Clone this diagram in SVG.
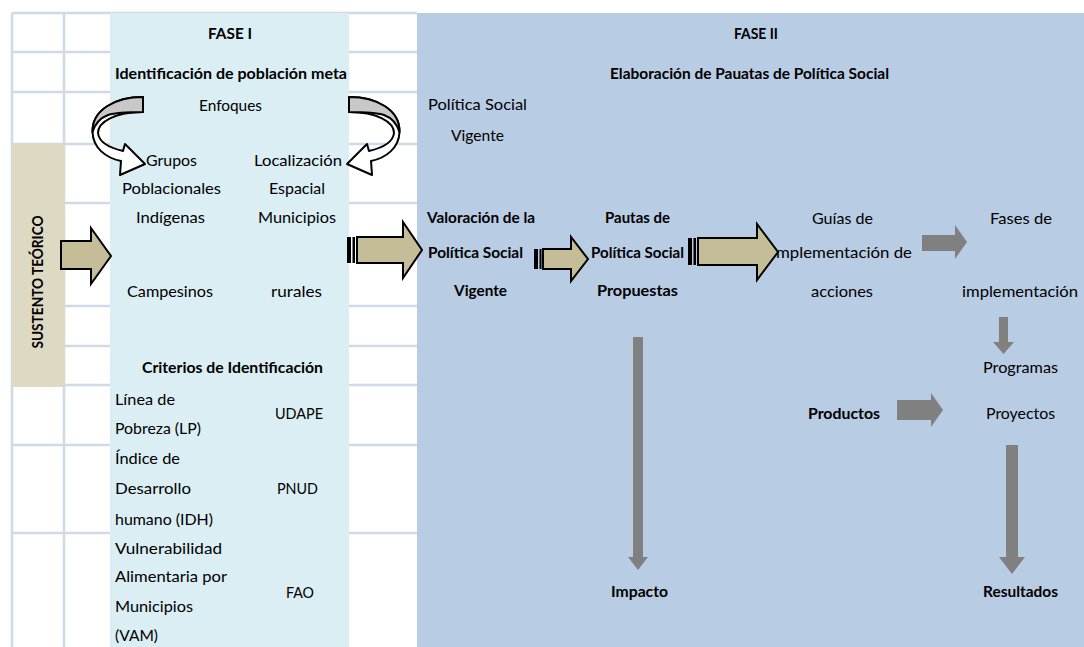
<svg xmlns="http://www.w3.org/2000/svg" xmlns:xlink="http://www.w3.org/1999/xlink" width="1084" height="647" viewBox="0 0 1084 647">
<style>
.grid{stroke:#d0d9e6;stroke-width:2.6;fill:none}
.t{font-family:Lato,"Liberation Sans",sans-serif;font-size:16px;fill:#000}
.b{font-weight:bold}
.tan{fill:#c4bd97;stroke:#000;stroke-width:2;stroke-linejoin:miter}
.stripe{fill:#000}
.gray{fill:#808080}
.cw{fill:#fff;stroke:#000;stroke-width:2;stroke-linejoin:round}
.cg{fill:#c8c8c8;stroke:#000;stroke-width:2;stroke-linejoin:round}
</style>
<defs>
<g id="curved">
<path class="cw" d="M143,97 C115,97 92,110 92.5,132 C93,148 106,158 121,161 L120,175 L145,164 L125,144 L123,151 C110,148 99,142 98,133 C98,122 115,112 143,112 Z"/>
<path class="cg" d="M143,97 C115,97 92,110 92.5,132 C95,124 100,118 108,115 C117,112 130,112 143,112 Z"/>
</g>
</defs>
<rect width="1084" height="647" fill="#fff"/>
<g id="grid">
<line class="grid" x1="12" y1="13" x2="417" y2="13"/>
<line class="grid" x1="12" y1="52" x2="417" y2="52"/>
<line class="grid" x1="12" y1="92" x2="417" y2="92"/>
<line class="grid" x1="12" y1="144" x2="417" y2="144"/>
<line class="grid" x1="12" y1="203" x2="417" y2="203"/>
<line class="grid" x1="12" y1="306" x2="417" y2="306"/>
<line class="grid" x1="12" y1="346" x2="417" y2="346"/>
<line class="grid" x1="12" y1="385" x2="417" y2="385"/>
<line class="grid" x1="12" y1="445" x2="417" y2="445"/>
<line class="grid" x1="12" y1="533" x2="417" y2="533"/>
<line class="grid" x1="12" y1="13" x2="12" y2="647"/>
<line class="grid" x1="64" y1="13" x2="64" y2="647"/>
</g>
<g id="sustento">
<rect x="12" y="144" width="53" height="243" fill="#ddd9c3"/>
<text class="t b" transform="translate(43,282) rotate(-90)" text-anchor="middle" textLength="133" lengthAdjust="spacingAndGlyphs">SUSTENTO TEÓRICO</text>
</g>
<g id="fase1">
<rect x="110" y="13" width="239" height="634" fill="#daeef3"/>
<text class="t b" x="208" y="39" textLength="44" lengthAdjust="spacingAndGlyphs">FASE I</text>
<text class="t b" x="115" y="79" textLength="232" lengthAdjust="spacingAndGlyphs">Identificación de población meta</text>
<text class="t" x="199" y="111" textLength="63" lengthAdjust="spacingAndGlyphs">Enfoques</text>
<text class="t" x="146" y="166" textLength="51" lengthAdjust="spacingAndGlyphs">Grupos</text>
<text class="t" x="254" y="166" textLength="88" lengthAdjust="spacingAndGlyphs">Localización</text>
<text class="t" x="122" y="194" textLength="99" lengthAdjust="spacingAndGlyphs">Poblacionales</text>
<text class="t" x="269" y="194" textLength="56" lengthAdjust="spacingAndGlyphs">Espacial</text>
<text class="t" x="136" y="223" textLength="69" lengthAdjust="spacingAndGlyphs">Indígenas</text>
<text class="t" x="258" y="223" textLength="78" lengthAdjust="spacingAndGlyphs">Municipios</text>
<text class="t" x="127" y="297" textLength="86" lengthAdjust="spacingAndGlyphs">Campesinos</text>
<text class="t" x="271" y="297" textLength="51" lengthAdjust="spacingAndGlyphs">rurales</text>
<text class="t b" x="142" y="373" textLength="181" lengthAdjust="spacingAndGlyphs">Criterios de Identificación</text>
<text class="t" x="115" y="405" textLength="60" lengthAdjust="spacingAndGlyphs">Línea de</text>
<text class="t" x="115" y="434" textLength="86" lengthAdjust="spacingAndGlyphs">Pobreza (LP)</text>
<text class="t" x="275" y="419" textLength="48" lengthAdjust="spacingAndGlyphs">UDAPE</text>
<text class="t" x="115" y="464" textLength="65" lengthAdjust="spacingAndGlyphs">Índice de</text>
<text class="t" x="115" y="494" textLength="76" lengthAdjust="spacingAndGlyphs">Desarrollo</text>
<text class="t" x="115" y="525" textLength="98" lengthAdjust="spacingAndGlyphs">humano (IDH)</text>
<text class="t" x="277" y="494" textLength="41" lengthAdjust="spacingAndGlyphs">PNUD</text>
<text class="t" x="115" y="554" textLength="107" lengthAdjust="spacingAndGlyphs">Vulnerabilidad</text>
<text class="t" x="115" y="582" textLength="112" lengthAdjust="spacingAndGlyphs">Alimentaria por</text>
<text class="t" x="115" y="612" textLength="78" lengthAdjust="spacingAndGlyphs">Municipios</text>
<text class="t" x="115" y="641" textLength="43" lengthAdjust="spacingAndGlyphs">(VAM)</text>
<text class="t" x="286" y="598" textLength="28" lengthAdjust="spacingAndGlyphs">FAO</text>
</g>
<g id="fase2">
<rect x="417" y="13" width="667" height="634" fill="#b8cce4"/>
<text class="t b" x="734" y="39" textLength="44" lengthAdjust="spacingAndGlyphs">FASE II</text>
<text class="t b" x="610" y="79" textLength="279" lengthAdjust="spacingAndGlyphs">Elaboración de Pauatas de Política Social</text>
</g>
<g id="politica-vigente">
<text class="t" x="428" y="110" textLength="99" lengthAdjust="spacingAndGlyphs">Política Social</text>
<text class="t" x="451" y="141" textLength="53" lengthAdjust="spacingAndGlyphs">Vigente</text>
</g>
<g id="valoracion">
<text class="t b" x="427" y="223" textLength="108" lengthAdjust="spacingAndGlyphs">Valoración de la</text>
<text class="t b" x="428" y="258" textLength="95" lengthAdjust="spacingAndGlyphs">Política Social</text>
<text class="t b" x="454" y="296" textLength="53" lengthAdjust="spacingAndGlyphs">Vigente</text>
</g>
<g id="pautas">
<text class="t b" x="605" y="223" textLength="65" lengthAdjust="spacingAndGlyphs">Pautas de</text>
<text class="t b" x="591" y="258" textLength="93" lengthAdjust="spacingAndGlyphs">Política Social</text>
<text class="t b" x="597" y="296" textLength="81" lengthAdjust="spacingAndGlyphs">Propuestas</text>
</g>
<g id="guias">
<text class="t" x="812" y="224" textLength="61" lengthAdjust="spacingAndGlyphs">Guías de</text>
<text class="t" x="772" y="258" textLength="140" lengthAdjust="spacingAndGlyphs">implementación de</text>
<text class="t" x="811" y="297" textLength="62" lengthAdjust="spacingAndGlyphs">acciones</text>
</g>
<g id="fases">
<text class="t" x="990" y="224" textLength="62" lengthAdjust="spacingAndGlyphs">Fases de</text>
<text class="t" x="962" y="297" textLength="116" lengthAdjust="spacingAndGlyphs">implementación</text>
</g>
<g id="programas">
<text class="t" x="983" y="373" textLength="75" lengthAdjust="spacingAndGlyphs">Programas</text>
<text class="t" x="986" y="419" textLength="69" lengthAdjust="spacingAndGlyphs">Proyectos</text>
</g>
<g id="productos">
<text class="t b" x="808" y="419" textLength="72" lengthAdjust="spacingAndGlyphs">Productos</text>
</g>
<g id="impacto">
<text class="t b" x="611" y="597" textLength="57" lengthAdjust="spacingAndGlyphs">Impacto</text>
</g>
<g id="resultados">
<text class="t b" x="983" y="597" textLength="75" lengthAdjust="spacingAndGlyphs">Resultados</text>
</g>
<g id="connectors">
<use xlink:href="#curved"/>
<use xlink:href="#curved" transform="translate(492,0) scale(-1,1)"/>
<path class="tan" d="M61,241 L91,241 L91,228 L111,256 L91,284 L91,269 L61,269 Z"/>
<rect class="stripe" x="347" y="237" width="4" height="26"/>
<rect class="stripe" x="352.5" y="237" width="2.5" height="26"/>
<path class="tan" d="M357,237 L403,237 L403,222 L422,250 L403,278 L403,263 L357,263 Z"/>
<rect class="stripe" x="534" y="249" width="4" height="20"/>
<rect class="stripe" x="539.5" y="249" width="2" height="20"/>
<path class="tan" d="M543,249 L571,249 L571,237 L588,259 L571,281 L571,269 L543,269 Z"/>
<rect class="stripe" x="688" y="238" width="4" height="27"/>
<rect class="stripe" x="693.5" y="238" width="2.5" height="27"/>
<path class="tan" d="M698,238 L757,238 L757,224 L778,252 L757,280 L757,265 L698,265 Z"/>
<path class="gray" d="M922,235 L955,235 L955,225 L967,242 L955,259 L955,251 L922,251 Z"/>
<path class="gray" d="M999,317 L1008,317 L1008,342 L1014,342 L1003.5,354 L993,342 L999,342 Z"/>
<path class="gray" d="M897,400 L931,400 L931,393 L943,410 L931,427 L931,420 L897,420 Z"/>
<path class="gray" d="M633,337 L643,337 L643,557 L648,557 L638,570 L628,557 L633,557 Z"/>
<path class="gray" d="M1006,445 L1018,445 L1018,557 L1025,557 L1012,574 L999,557 L1006,557 Z"/>
</g>
</svg>
